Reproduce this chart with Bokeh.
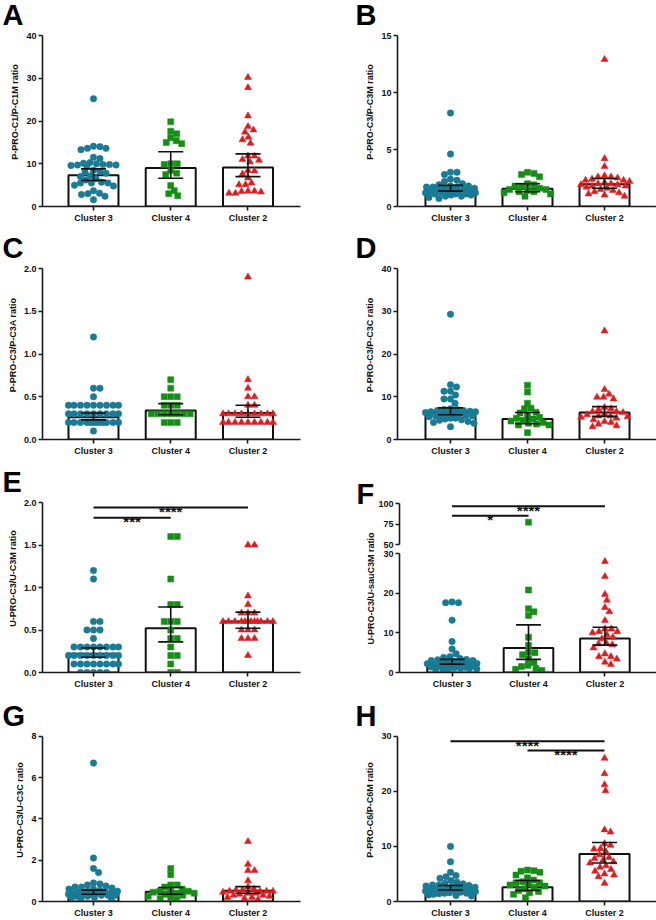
import math
from bokeh.plotting import figure
from bokeh.layouts import row, column
from bokeh.models import Range1d, FixedTicker, Title, NumeralTickFormatter
from bokeh.embed import file_html
from bokeh.resources import INLINE
from bokeh.core.properties import value

FONT = "Liberation Sans"
CLUSTERS = ["Cluster 3", "Cluster 4", "Cluster 2"]
X_POS = [1, 2, 3]
COLORS = ["#197b96", "#148f14", "#e31a1c"]
MARKERS = ["circle", "square", "triangle"]
SIZES = [6.5, 6, 7]

# ---------------- data ----------------
A_label = "P-PRO-C1/P-C1M ratio"
A_c3 = [25.2, 14.1, 14.0, 13.6, 13.6, 13.3, 11.5, 11.2, 10.3, 10.1, 10.0, 9.8, 9.8, 9.7, 9.7, 9.6, 9.4, 8.5, 8.2,
        8.0, 7.8, 7.2, 7.0, 6.5, 6.2, 5.7, 5.5, 5.5, 5.5, 5.0, 4.8, 3.7, 3.1, 3.0, 2.8, 2.4, 1.6]
A_c4 = [19.8, 17.6, 17.0, 16.1, 15.4, 15.0, 14.7, 10.0, 10.0, 9.8, 8.4, 7.8, 7.5, 4.9, 3.7, 3.0, 2.5]
A_c2 = [30.2, 27.8, 21.2, 18.7, 17.9, 17.4, 16.2, 15.6, 14.8, 11.8, 11.8, 11.0, 10.8, 10.4, 8.4, 8.3, 7.6, 6.7,
        5.5, 5.1, 5.1, 3.6, 3.6, 3.5, 3.4, 3.1, 3.1]
A_bar = [7.3, 9.0, 9.1]
A_lo = [6.1, 6.6, 7.0]
A_hi = [8.8, 12.8, 12.3]
A_ticks = [0, 10, 20, 30, 40]

B_label = "P-PRO-C3/P-C3M ratio"
B_c3 = [8.2, 4.6, 3.0, 3.0, 2.8, 2.4, 2.3, 2.2, 2.0, 1.9, 1.8, 1.8, 1.7, 1.7, 1.7, 1.6, 1.6, 1.5, 1.5, 1.4, 1.4,
        1.3, 1.3, 1.3, 1.2, 1.2, 1.2, 1.1, 1.1, 1.1, 1.0, 1.0, 0.9, 0.9, 0.8, 0.7]
B_c4 = [3.0, 2.9, 2.8, 2.6, 2.0, 1.9, 1.8, 1.8, 1.6, 1.5, 1.5, 1.4, 1.3, 1.3, 1.2, 1.1, 0.9]
B_c2 = [12.9, 4.2, 3.5, 2.7, 2.6, 2.6, 2.5, 2.4, 2.3, 2.3, 2.2, 2.1, 2.0, 2.0, 1.9, 1.9, 1.8, 1.8, 1.7, 1.6,
        1.5, 1.4, 1.3, 1.2, 1.1, 1.0, 0.9]
B_bar = [1.5, 1.55, 1.95]
B_lo = [1.35, 1.3, 1.6]
B_hi = [1.85, 2.0, 2.45]
B_ticks = [0, 5, 10, 15]

C_label = "P-PRO-C3/P-C3A ratio"
C_c3 = [1.2, 0.6, 0.6, 0.5, 0.4, 0.4, 0.4, 0.4, 0.4, 0.4, 0.4, 0.4, 0.4, 0.3, 0.3, 0.3, 0.3, 0.3, 0.3, 0.3, 0.3,
        0.3, 0.2, 0.2, 0.2, 0.2, 0.2, 0.2, 0.2, 0.2, 0.2, 0.2, 0.2, 0.2, 0.1]
C_c4 = [0.7, 0.6, 0.5, 0.5, 0.5, 0.4, 0.4, 0.4, 0.3, 0.3, 0.3, 0.3, 0.3, 0.3, 0.3, 0.2, 0.2, 0.2]
C_c2 = [1.9, 0.7, 0.6, 0.5, 0.5, 0.4, 0.4, 0.3, 0.3, 0.3, 0.3, 0.3, 0.3, 0.3, 0.3, 0.3, 0.2, 0.2, 0.2, 0.2,
        0.2, 0.2, 0.2, 0.2, 0.2]
C_bar = [0.26, 0.34, 0.31]
C_lo = [0.23, 0.29, 0.26]
C_hi = [0.31, 0.42, 0.40]
C_ticks = [0, 0.5, 1.0, 1.5, 2.0]

D_label = "P-PRO-C3/P-C3C ratio"
D_c3 = [29.3, 12.8, 12.3, 11.3, 11.3, 10.4, 9.5, 9.5, 8.5, 7.2, 7.0, 7.0, 6.8, 6.8, 6.6, 6.5, 6.5, 6.3, 6.2,
        6.0, 6.0, 5.8, 5.6, 5.5, 5.5, 5.3, 5.0, 5.0, 4.8, 4.6, 4.5, 4.2, 4.0, 3.8, 3.0]
D_c4 = [12.7, 11.1, 8.5, 7.3, 7.2, 6.4, 6.2, 5.5, 5.2, 5.0, 4.8, 4.5, 4.3, 4.0, 3.8, 3.6, 3.4, 3.4, 1.6]
D_c2 = [25.4, 11.7, 10.6, 9.9, 9.9, 9.5, 7.5, 7.2, 7.0, 6.5, 6.5, 6.3, 6.0, 5.8, 5.5, 5.5, 5.3, 5.2, 5.0,
        4.6, 4.2, 4.0, 3.6, 3.2, 3.0]
D_bar = [6.4, 4.8, 6.3]
D_lo = [5.8, 3.7, 5.4]
D_hi = [7.4, 6.3, 7.7]
D_ticks = [0, 10, 20, 30, 40]

E_label = "U-PRO-C3/U-C3M ratio"
E_c3 = [1.2, 1.1, 0.6, 0.6, 0.5, 0.5, 0.5, 0.4, 0.3, 0.3, 0.3, 0.3, 0.3, 0.3, 0.3, 0.3, 0.2, 0.2, 0.2, 0.2,
        0.2, 0.2, 0.2, 0.2, 0.2, 0.1, 0.1, 0.1, 0.1, 0.1, 0.1, 0.1, 0.1, 0.0, 0.0, 0.0, 0.0, 0.0]
E_c4 = [1.6, 1.6, 1.1, 0.8, 0.8, 0.6, 0.6, 0.6, 0.5, 0.4, 0.4, 0.3, 0.2, 0.2, 0.1, 0.0, 0.0]
E_c2 = [1.5, 1.5, 0.9, 0.8, 0.7, 0.7, 0.7, 0.6, 0.6, 0.6, 0.6, 0.6, 0.6, 0.6, 0.6, 0.6, 0.6, 0.6, 0.6,
        0.5, 0.5, 0.5, 0.4, 0.4, 0.4, 0.2]
E_bar = [0.22, 0.52, 0.60]
E_lo = [0.18, 0.36, 0.52]
E_hi = [0.29, 0.77, 0.71]
E_ticks = [0, 0.5, 1.0, 1.5, 2.0]
E_sig_from = [1, 1]
E_sig_to = [2, 3]
E_sig_y = [1.82, 1.94]
E_sig_text = ["***", "****"]

F_label = "U-PRO-C3/U-sauC3M ratio"
F_c3 = [17.8, 17.6, 17.6, 13.2, 7.8, 5.9, 4.7, 4.0, 3.8, 3.5, 3.3, 3.2, 3.0, 3.0, 2.8, 2.6, 2.5, 2.4, 2.3, 2.2,
        2.1, 2.0, 1.9, 1.8, 1.7, 1.6, 1.5, 1.4, 1.3, 1.2, 1.1, 1.0, 0.9, 0.8, 0.7, 0.5]
F_c4 = [77.2, 20.8, 16.1, 15.3, 14.4, 8.9, 6.8, 5.1, 5.0, 4.5, 3.4, 2.5, 1.8, 1.5, 1.0, 0.8, 0.5]
F_c2 = [28.0, 24.2, 19.7, 18.2, 16.4, 15.3, 13.1, 11.0, 11.0, 10.3, 10.3, 10.0, 9.5, 8.9, 8.5, 7.4, 7.2, 7.0,
        6.2, 4.7, 4.0, 4.0, 3.4, 2.6, 2.0]
F_bar = [2.5, 6.2, 8.6]
F_lo = [2.1, 3.3, 6.9]
F_hi = [3.3, 12.0, 11.4]
F_ticks_low = [0, 10, 20, 30]
F_ticks_high = [50, 75, 100]
F_sig_from = [1, 1]
F_sig_to = [2, 3]
F_sig_y = [85.0, 96.5]
F_sig_text = ["*", "****"]

G_label = "U-PRO-C3/U-C3C ratio"
G_c3 = [6.7, 2.1, 1.6, 1.4, 0.9, 0.85, 0.8, 0.75, 0.7, 0.7, 0.65, 0.6, 0.6, 0.55, 0.5, 0.5, 0.45, 0.45, 0.4,
        0.4, 0.4, 0.35, 0.35, 0.35, 0.3, 0.3, 0.3, 0.25, 0.25, 0.2, 0.2, 0.15, 0.1]
G_c4 = [1.6, 1.3, 0.8, 0.8, 0.7, 0.6, 0.5, 0.5, 0.5, 0.45, 0.4, 0.4, 0.35, 0.3, 0.25, 0.2, 0.15, 0.1]
G_c2 = [2.9, 1.8, 1.5, 1.5, 1.0, 0.7, 0.6, 0.55, 0.55, 0.5, 0.5, 0.5, 0.5, 0.45, 0.4, 0.4, 0.35, 0.3, 0.3,
        0.25, 0.2, 0.2, 0.15, 0.1]
G_bar = [0.42, 0.47, 0.52]
G_lo = [0.35, 0.35, 0.40]
G_hi = [0.55, 0.68, 0.72]
G_ticks = [0, 2, 4, 6, 8]

H_label = "P-PRO-C6/P-C6M ratio"
H_c3 = [10.0, 7.2, 5.3, 4.7, 4.5, 4.2, 3.8, 3.5, 3.3, 3.2, 3.0, 3.0, 2.9, 2.8, 2.7, 2.6, 2.5, 2.4, 2.3, 2.2,
        2.2, 2.1, 2.0, 2.0, 1.9, 1.8, 1.7, 1.6, 1.5, 1.5, 1.4, 1.3, 1.2, 1.1, 1.0]
H_c4 = [5.7, 5.6, 5.5, 5.3, 4.8, 4.3, 3.9, 3.6, 3.4, 3.4, 3.2, 3.0, 2.8, 2.6, 2.3, 2.0, 1.8, 1.6, 1.3, 0.7]
H_c2 = [26.0, 23.2, 21.2, 20.1, 13.0, 12.6, 10.5, 10.2, 9.6, 9.5, 9.0, 8.5, 8.0, 7.8, 7.5, 7.2, 7.0, 6.5,
        6.2, 5.8, 5.5, 5.0, 4.8, 4.5, 3.3]
H_bar = [2.4, 2.6, 8.6]
H_lo = [2.1, 2.0, 7.0]
H_hi = [2.9, 3.8, 10.7]
H_ticks = [0, 10, 20, 30]
H_sig_from = [1, 2]
H_sig_to = [3, 3]
H_sig_y = [29.1, 27.4]
H_sig_text = ["****", "****"]

# ---------------- layout geometry (pixels) ----------------
COL_GEOM = [dict(width=328, bl=42, br=28, xr=(0.34, 3.68), letter_off=-40),
            dict(width=328, bl=69, br=0, xr=(0.312, 3.675), letter_off=-42)]
ROW_GEOM = [dict(height=228, bt=17, bb=22), dict(height=233, bt=22, bb=22),
            dict(height=233, bt=23, bb=22), dict(height=226, bt=24, bb=16)]
AXIS_GAP = 18      # free frame above the top of each y axis
LETTER_STANDOFF = -26


def swarm(vals, pxu, d=6.2, half_w=25.0, step=0.5):
    cands = [0.0]
    k = 1
    while k * step <= half_w:
        cands += [k * step, -k * step]
        k += 1
    placed, offs = [], []
    for v in vals:
        y = v * pxu
        chosen, best, bestd = None, 0.0, -1.0
        for c in cands:
            md = min((math.hypot(c - px, y - py) for px, py in placed), default=1e9)
            if md >= d:
                chosen = c
                break
            if md > bestd:
                bestd, best = md, c
        if chosen is None:
            chosen = best
        placed.append((chosen, y))
        offs.append(chosen)
    return offs


def style(p, yticks, fmt=None, xaxis=True):
    p.outline_line_color = None
    p.xgrid.visible = False
    p.ygrid.visible = False
    p.background_fill_color = "white"
    for ax in p.axis:
        ax.axis_line_width = 1.6
        ax.axis_line_color = "#1a1a1a"
        ax.major_tick_line_width = 1.6
        ax.major_tick_line_color = "#1a1a1a"
        ax.major_tick_out = 4
        ax.major_tick_in = 0
        ax.minor_tick_line_color = None
        ax.major_label_text_font = FONT
        ax.major_label_text_font_style = "bold"
        ax.major_label_text_font_size = "9px"
        ax.major_label_text_color = "#111111"
        ax.major_label_standoff = 2
        ax.axis_label_text_font = FONT
        ax.axis_label_text_font_style = "bold"
        ax.axis_label_text_font_size = "9px"
        ax.axis_label_text_color = "#111111"
        ax.axis_label_standoff = 3
    if xaxis:
        p.xaxis.ticker = FixedTicker(ticks=X_POS)
        p.xaxis.major_label_overrides = {x: c for x, c in zip(X_POS, CLUSTERS)}
    p.yaxis.ticker = FixedTicker(ticks=yticks)
    p.yaxis.bounds = (yticks[0], yticks[-1])
    if fmt:
        p.yaxis.formatter = NumeralTickFormatter(format=fmt)


def add_letter(p, letter, off):
    p.add_layout(Title(text=letter, align="left", offset=off, standoff=LETTER_STANDOFF,
                       text_font=FONT, text_font_style="bold", text_font_size="29px",
                       text_color="black"), "above")


def draw_points(p, groups, pxu_y, pxu_x, keep=lambda v: True):
    for i, vals in enumerate(groups):
        offs = swarm(vals, pxu_y)
        xs = [X_POS[i] + o / pxu_x for o, v in zip(offs, vals) if keep(v)]
        ys = [v for v in vals if keep(v)]
        if xs:
            p.scatter(x=xs, y=ys, marker=MARKERS[i], size=SIZES[i], fill_color=COLORS[i],
                      line_color=COLORS[i], line_width=0.5)


def draw_bars(p, bars, pxu_x):
    p.vbar(x=X_POS, top=bars, bottom=0, width=50 / pxu_x, fill_color="white",
           line_color="#111111", line_width=2)


def draw_err(p, lo, hi, pxu_x):
    cw = 12.5 / pxu_x
    p.segment(x0=X_POS, y0=lo, x1=X_POS, y1=hi, line_color="#111111", line_width=1.6)
    p.segment(x0=[x - cw for x in X_POS], y0=lo, x1=[x + cw for x in X_POS], y1=lo,
              line_color="#111111", line_width=1.6)
    p.segment(x0=[x - cw for x in X_POS], y0=hi, x1=[x + cw for x in X_POS], y1=hi,
              line_color="#111111", line_width=1.6)


def draw_sig(p, xf, xt, ys, texts):
    p.segment(x0=xf, y0=ys, x1=xt, y1=ys, line_color="#111111", line_width=2)
    p.text(x=[(a + b) / 2 for a, b in zip(xf, xt)], y=ys, text=texts, text_align="center",
           text_baseline="alphabetic", y_offset=4, text_font=value(FONT), text_font_style="bold",
           text_font_size="15px", text_color="#111111")


def panel(letter, col, rw, ylabel, groups, bars, lo, hi, yticks, fmt=None, sig=None):
    cg, rg = COL_GEOM[col], ROW_GEOM[rw]
    frame_h = rg["height"] - rg["bt"] - rg["bb"]
    axis_h = frame_h - AXIS_GAP
    ymax = yticks[-1]
    y_end = ymax * frame_h / axis_h
    pxu_y = axis_h / ymax
    pxu_x = (cg["width"] - cg["bl"] - cg["br"]) / (cg["xr"][1] - cg["xr"][0])
    p = figure(width=cg["width"], height=rg["height"], x_range=Range1d(*cg["xr"]),
               y_range=Range1d(0, y_end), output_backend="svg", toolbar_location=None,
               min_border_left=cg["bl"], min_border_right=cg["br"], min_border_top=rg["bt"],
               min_border_bottom=rg["bb"])
    style(p, yticks, fmt)
    p.yaxis.axis_label = ylabel
    add_letter(p, letter, cg["letter_off"])
    draw_bars(p, bars, pxu_x)
    draw_points(p, groups, pxu_y, pxu_x)
    draw_err(p, lo, hi, pxu_x)
    if sig:
        draw_sig(p, *sig)
    return p


pA = panel("A", 0, 0, A_label, [A_c3, A_c4, A_c2], A_bar, A_lo, A_hi, A_ticks)
pB = panel("B", 1, 0, B_label, [B_c3, B_c4, B_c2], B_bar, B_lo, B_hi, B_ticks)
pC = panel("C", 0, 1, C_label, [C_c3, C_c4, C_c2], C_bar, C_lo, C_hi, C_ticks, fmt="0.0")
pD = panel("D", 1, 1, D_label, [D_c3, D_c4, D_c2], D_bar, D_lo, D_hi, D_ticks)
pE = panel("E", 0, 2, E_label, [E_c3, E_c4, E_c2], E_bar, E_lo, E_hi, E_ticks, fmt="0.0",
           sig=(E_sig_from, E_sig_to, E_sig_y, E_sig_text))
pG = panel("G", 0, 3, G_label, [G_c3, G_c4, G_c2], G_bar, G_lo, G_hi, G_ticks)
pH = panel("H", 1, 3, H_label, [H_c3, H_c4, H_c2], H_bar, H_lo, H_hi, H_ticks,
           sig=(H_sig_from, H_sig_to, H_sig_y, H_sig_text))

# ---------------- panel F: broken y axis = two stacked figures + label strip ----------------
LAB_W = 47
F_W = COL_GEOM[1]["width"] - LAB_W
F_BL = COL_GEOM[1]["bl"] - LAB_W
F_XR = COL_GEOM[1]["xr"]
pxu_x = (F_W - F_BL) / (F_XR[1] - F_XR[0])
xr = Range1d(*F_XR)
UP_H, UP_BT, UP_BB, UP_AXIS = 88, 24, 5, 41
LOW_H, LOW_BT, LOW_BB = 145, 4, 22
up_frame = UP_H - UP_BT - UP_BB
up_pxu = UP_AXIS / (F_ticks_high[-1] - F_ticks_high[0])
pFu = figure(width=F_W, height=UP_H, x_range=xr,
             y_range=Range1d(F_ticks_high[0], F_ticks_high[0] + up_frame / up_pxu),
             output_backend="svg", toolbar_location=None, x_axis_location=None,
             min_border_left=F_BL, min_border_right=0, min_border_top=UP_BT,
             min_border_bottom=UP_BB)
style(pFu, F_ticks_high, xaxis=False)
low_frame = LOW_H - LOW_BT - LOW_BB
low_pxu = low_frame / F_ticks_low[-1]
pFl = figure(width=F_W, height=LOW_H, x_range=xr, y_range=Range1d(0, F_ticks_low[-1]),
             output_backend="svg", toolbar_location=None,
             min_border_left=F_BL, min_border_right=0, min_border_top=LOW_BT,
             min_border_bottom=LOW_BB)
style(pFl, F_ticks_low)
groupsF = [F_c3, F_c4, F_c2]
draw_bars(pFl, F_bar, pxu_x)
draw_points(pFl, groupsF, low_pxu, pxu_x, keep=lambda v: v <= F_ticks_low[-1])
draw_err(pFl, F_lo, F_hi, pxu_x)
draw_points(pFu, groupsF, up_pxu, pxu_x, keep=lambda v: v >= F_ticks_high[0])
draw_sig(pFu, F_sig_from, F_sig_to, F_sig_y, F_sig_text)

# strip left of panel F holding its letter and its y-axis title (pixel coordinates)
ROW3_H = ROW_GEOM[2]["height"]
pFlab = figure(width=LAB_W, height=ROW3_H, x_range=Range1d(0, LAB_W), y_range=Range1d(0, ROW3_H),
               output_backend="svg", toolbar_location=None, x_axis_location=None, y_axis_location=None,
               min_border_left=0, min_border_right=0, min_border_top=0, min_border_bottom=0)
pFlab.outline_line_color = None
pFlab.xgrid.visible = False
pFlab.ygrid.visible = False
pFlab.text(x=[42], y=[106], text=[F_label], angle=math.pi / 2, text_align="center",
           text_baseline="middle", text_font=value(FONT), text_font_style="bold",
           text_font_size="9px", text_color="#111111")
pFlab.text(x=[28], y=[201], text=["F"], text_align="left", text_baseline="alphabetic",
           text_font=value(FONT), text_font_style="bold", text_font_size="29px",
           text_color="black")

layout = column(row(pA, pB), row(pC, pD), row(pE, row(pFlab, column(pFu, pFl))), row(pG, pH))
open("out.html", "w").write(file_html(layout, INLINE))
